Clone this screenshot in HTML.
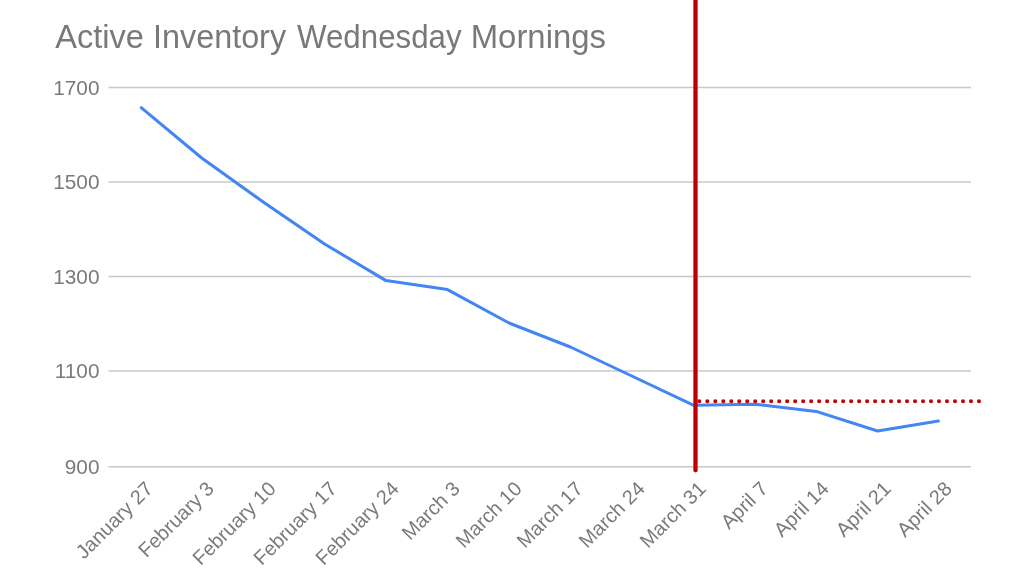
<!DOCTYPE html>
<html>
<head>
<meta charset="utf-8">
<title>Active Inventory Wednesday Mornings</title>
<style>
html,body{margin:0;padding:0;background:#ffffff;}
body{width:1024px;height:576px;overflow:hidden;font-family:"Liberation Sans",sans-serif;}
svg{display:block;will-change:transform;}
text{font-family:"Liberation Sans",sans-serif;}
</style>
</head>
<body>
<svg width="1024" height="576" viewBox="0 0 1024 576">
  <rect x="0" y="0" width="1024" height="576" fill="#ffffff"/>
  <!-- title -->
  <g font-size="33" fill="#797979">
    <text transform="translate(55.2,47.6) scale(0.9888,1)">Active</text>
    <text transform="translate(153.06,47.6) scale(0.9805,1)">Inventory</text>
    <text transform="translate(297,47.6) scale(0.9483,1)">Wednesday</text>
    <text transform="translate(470.71,47.6) scale(0.997,1)">Mornings</text>
  </g>
  <!-- gridlines -->
  <g stroke="#c8c8c8" stroke-width="1.5">
    <line x1="108.5" y1="87.5" x2="971" y2="87.5"/>
    <line x1="108.5" y1="182" x2="971" y2="182"/>
    <line x1="108.5" y1="276.5" x2="971" y2="276.5"/>
    <line x1="108.5" y1="370.9" x2="971" y2="370.9"/>
    <line x1="108.5" y1="466.8" x2="971" y2="466.8"/>
  </g>
  <!-- y labels -->
  <g font-size="20.8" fill="#7a7a7a" text-anchor="end">
    <text x="99.5" y="95.1">1700</text>
    <text x="99.5" y="188.9">1500</text>
    <text x="99.5" y="283.7">1300</text>
    <text x="99.5" y="377.5">1100</text>
    <text x="99.5" y="474.1">900</text>
  </g>
  <!-- series -->
  <polyline fill="none" stroke="#4285f4" stroke-width="3" stroke-linejoin="round" stroke-linecap="round"
    points="141.2,107.7 201.7,158 263.2,202 324.6,244 386,280.6 447.5,289.6 509,323 570.4,347 631.8,376 693.3,405.2 754.7,404.2 816.2,411.4 877.6,431 938.4,421.1"/>
  <!-- red marker -->
  <line x1="695.5" y1="-5" x2="695.5" y2="470.3" stroke="#c00000" stroke-width="4.3" stroke-linecap="round"/>
  <line x1="699.3" y1="401.3" x2="980" y2="401.3" stroke="#c00000" stroke-width="4" stroke-linecap="round" stroke-dasharray="0 7.99"/>
  <!-- x labels -->
  <g font-size="20" fill="#7a7a7a" text-anchor="end">
    <text transform="translate(154,490) rotate(-45)">January 27</text>
    <text transform="translate(215,490) rotate(-45)">February 3</text>
    <text transform="translate(277,490) rotate(-45)">February 10</text>
    <text transform="translate(338,490) rotate(-45)">February 17</text>
    <text transform="translate(400,490) rotate(-45)">February 24</text>
    <text transform="translate(461,490) rotate(-45)">March 3</text>
    <text transform="translate(523,490) rotate(-45)">March 10</text>
    <text transform="translate(584,490) rotate(-45)">March 17</text>
    <text transform="translate(646,490) rotate(-45)">March 24</text>
    <text transform="translate(707,490) rotate(-45)">March 31</text>
    <text transform="translate(769,490) rotate(-45)">April 7</text>
    <text transform="translate(830,490) rotate(-45)">April 14</text>
    <text transform="translate(892,490) rotate(-45)">April 21</text>
    <text transform="translate(953,490) rotate(-45)">April 28</text>
  </g>
</svg>
</body>
</html>
